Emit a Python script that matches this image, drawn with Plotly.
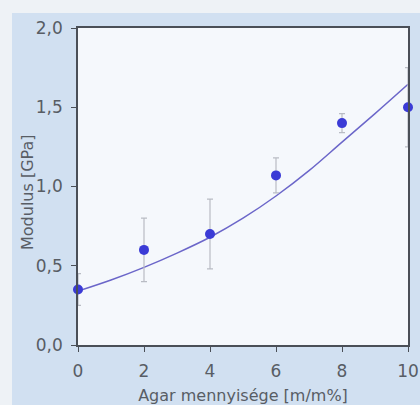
import plotly.graph_objects as go

# Data
agar = [0, 2, 4, 6, 8, 10]
modulus = [0.35, 0.60, 0.70, 1.07, 1.40, 1.50]
modulus_err = [0.10, 0.20, 0.22, 0.11, 0.06, 0.25]

fit_x = [0, 1, 2, 3, 4, 5, 6, 7, 8, 9, 10]
fit_y = [0.34, 0.41, 0.49, 0.58, 0.68, 0.80, 0.94, 1.10, 1.28, 1.46, 1.645]

x_ticks = [0, 2, 4, 6, 8, 10]
y_ticks = [0.0, 0.5, 1.0, 1.5, 2.0]

W, H = 420, 405
ML, MR, MT, MB = 78, 12, 28, 60
PW, PH = W - ML - MR, H - MT - MB

axis_col = "#4a4f57"
text_col = "#585d65"
font = "DejaVu Sans, Liberation Sans, sans-serif"


def px_x(p):
    return (p - ML) / PW


def px_y(p):
    return (H - MB - p) / PH


fig = go.Figure()
fig.add_trace(go.Scatter(
    x=fit_x, y=fit_y, mode="lines", line=dict(color="#6b66c9", width=1.5, shape="spline"),
    hoverinfo="skip", showlegend=False, cliponaxis=False))
fig.add_trace(go.Scatter(
    x=agar, y=modulus, mode="markers",
    marker=dict(color="#3b3bd6", size=10),
    error_y=dict(type="data", array=modulus_err, color="#b9bcc4", thickness=1.2, width=3),
    showlegend=False, cliponaxis=False))

# scan edge strips (top and left) outside the plot area
strip_col = "#eef2f6"
fig.add_shape(type="rect", xref="paper", yref="paper", layer="below",
              x0=px_x(0), x1=px_x(W), y0=px_y(13), y1=px_y(0),
              fillcolor=strip_col, line=dict(width=0))
fig.add_shape(type="rect", xref="paper", yref="paper", layer="below",
              x0=px_x(0), x1=px_x(12), y0=px_y(H), y1=px_y(0),
              fillcolor=strip_col, line=dict(width=0))

# y-axis title
fig.add_annotation(text="Modulus [GPa]", textangle=-90, showarrow=False,
                   xref="paper", yref="paper", x=px_x(27), y=px_y(192),
                   xanchor="center", yanchor="middle",
                   font=dict(size=16, color=text_col, family=font))

fig.update_layout(
    width=W, height=H,
    margin=dict(l=ML, r=MR, t=MT, b=MB),
    paper_bgcolor="#d1e0f1",
    plot_bgcolor="#f5f8fc",
    separators=",.",
    font=dict(family=font, color=text_col, size=16),
    xaxis=dict(range=[0, 10], tickvals=x_ticks, tickformat="d", ticks="outside", ticklen=5,
               tickcolor=axis_col, showline=True, linecolor=axis_col, linewidth=1.5, mirror=True,
               showgrid=False, zeroline=False, tickfont=dict(size=17, color=text_col),
               ticklabelstandoff=5, automargin=False,
               title=dict(text="Agar mennyisége [m/m%]", font=dict(size=16, color=text_col))),
    yaxis=dict(range=[0, 2.0], tickvals=y_ticks, tickformat=".1f", ticks="outside", ticklen=5,
               tickcolor=axis_col, showline=True, linecolor=axis_col, linewidth=1.5, mirror=True,
               showgrid=False, zeroline=False, tickfont=dict(size=17, color=text_col),
               ticklabelstandoff=5, automargin=False),
)

fig.write_html("out.html")
